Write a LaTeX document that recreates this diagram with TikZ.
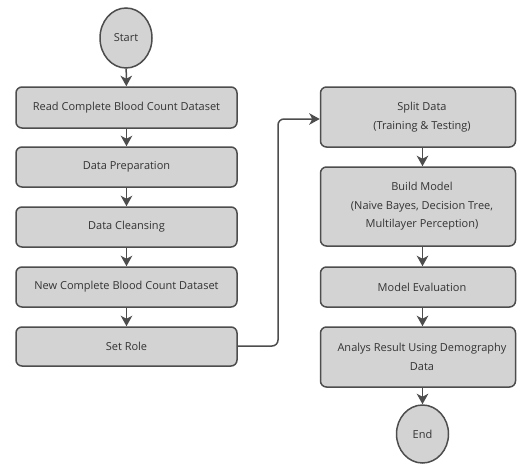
\documentclass[tikz,border=0pt]{standalone}
\usepackage{fontspec}
\setmainfont{Open Sans}
\usetikzlibrary{shapes.geometric,arrows.meta}
\definecolor{edgegray}{HTML}{4D4D4D}
\definecolor{fillgray}{HTML}{D3D3D3}
\definecolor{textgray}{HTML}{333333}
\begin{document}
\begin{tikzpicture}[x=1pt,y=-1pt,
  box/.style={draw=edgegray,fill=fillgray,line width=1.5pt,rounded corners=6pt,
    inner sep=0pt,align=center,text=textgray,font=\fontsize{11}{18.5}\selectfont},
  term/.style={ellipse,draw=edgegray,fill=fillgray,line width=1.5pt,inner sep=0pt,
    text=textgray,font=\fontsize{11}{13}\selectfont},
  flow/.style={draw=edgegray,line width=1.5pt,-{Stealth[length=10.5pt,width=11.5pt,inset=3pt]}}]
\useasboundingbox (0,0) rectangle (519,463);
% left column
\node[term,minimum width=52pt,minimum height=60pt] (start) at (126,38) {Start};
\node[box,minimum width=221pt,minimum height=41pt] (read) at (126.5,107.5) {Read Complete Blood Count Dataset};
\node[box,minimum width=221pt,minimum height=40pt] (prep) at (126.5,167) {Data Preparation};
\node[box,minimum width=221pt,minimum height=40pt] (clean) at (126.5,227) {Data Cleansing};
\node[box,minimum width=221pt,minimum height=40pt] (newds) at (126.5,287) {New Complete Blood Count Dataset};
\node[box,minimum width=221pt,minimum height=39pt] (role) at (126.5,346.5) {Set Role};
% right column
\node[box,minimum width=195pt,minimum height=60pt] (split) at (418,117) {\hspace*{8pt}Split Data\\\hspace*{8pt}(Training \& Testing)};
\node[box,minimum width=195pt,minimum height=79pt] (build) at (418,206.5) {\hspace*{8pt}Build Model\\\hspace*{8pt}(Naive Bayes, Decision Tree,\\\hspace*{8pt}Multilayer Perception)};
\node[box,minimum width=195pt,minimum height=40pt] (eval) at (418,287) {\hspace*{8pt}Model Evaluation};
\node[box,minimum width=195pt,minimum height=60pt] (analys) at (418,357) {\hspace*{8pt}Analys Result Using Demography\\\hspace*{8pt}Data};
\node[term,minimum width=52pt,minimum height=58pt] (end) at (422.5,434) {End};
% connectors
\draw[flow] (start) -- (read);
\draw[flow] (read) -- (prep);
\draw[flow] (prep) -- (clean);
\draw[flow] (clean) -- (newds);
\draw[flow] (newds) -- (role);
\coordinate (bendA) at (278,346);
\coordinate (bendB) at (278,119);
\draw[flow,rounded corners=6pt] (role.east |- bendA) -- (bendA) -- (bendB) -- (split.west |- bendB);
\draw[flow] ([xshift=4.5pt]split.south) -- ([xshift=4.5pt]build.north);
\draw[flow] ([xshift=4.5pt]build.south) -- ([xshift=4.5pt]eval.north);
\draw[flow] ([xshift=4.5pt]eval.south) -- ([xshift=4.5pt]analys.north);
\draw[flow] ([xshift=4.5pt]analys.south) -- (end);
\end{tikzpicture}
\end{document}
